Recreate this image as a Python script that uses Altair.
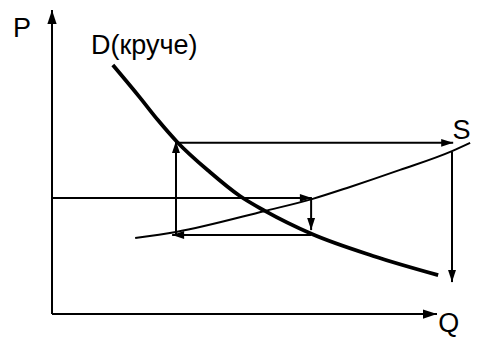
import altair as alt
import pandas as pd

# Demand curve D (steeper)
d_q = [1.58, 2.29, 2.75, 3.25, 4.10, 4.88, 5.53, 6.75, 8.34, 10.03]
d_p = [8.19, 7.11, 6.38, 5.66, 4.67, 3.88, 3.39, 2.63, 1.91, 1.28]

# Supply curve S
s_q = [2.16, 3.22, 5.53, 6.75, 7.74, 9.04, 10.39, 10.86]
s_p = [2.50, 2.70, 3.39, 3.78, 4.18, 4.74, 5.36, 5.63]

# Cobweb arrows (start -> end)
arrow_q1 = [0.00, 6.73, 6.73, 3.22, 3.22, 10.39]
arrow_p1 = [3.82, 3.82, 2.60, 2.60, 5.63, 5.33]
arrow_q2 = [6.75, 6.73, 3.12, 3.22, 10.42, 10.39]
arrow_p2 = [3.82, 2.76, 2.60, 5.69, 5.63, 1.05]

# Coordinate axes (origin -> tip)
axis_q1 = [0, 0]
axis_p1 = [0, 0]
axis_q2 = [0, 10]
axis_p2 = [10, 0]

# Labels
label_text = ["P", "Q", "D(круче)", "S"]
label_q = [-1.01, 10.03, 1.01, 10.40]
label_p = [9.11, -0.60, 8.55, 5.77]

xs = alt.Scale(domain=[-1.143, 10.883], nice=False, zero=False)
ys = alt.Scale(domain=[-0.789, 10.066], nice=False, zero=False)

d_df = pd.DataFrame({"q": d_q, "p": d_p})
s_df = pd.DataFrame({"q": s_q, "p": s_p})
arr_df = pd.DataFrame({"q1": arrow_q1, "p1": arrow_p1, "q2": arrow_q2, "p2": arrow_p2})
ax_df = pd.DataFrame({"q1": axis_q1, "p1": axis_p1, "q2": axis_q2, "p2": axis_p2})
lab_df = pd.DataFrame({"t": label_text, "q": label_q, "p": label_p})

angle_expr = ("datum.q2 > datum.q1 ? 90 : (datum.q2 < datum.q1 ? 270 : "
              "(datum.p2 > datum.p1 ? 0 : 180))")
head_path = "M0,0L0.33,1L-0.33,1Z"


def arrows(df, head_size):
    base = alt.Chart(df)
    rules = base.mark_rule(color="black", strokeWidth=2).encode(
        x=alt.X("q1:Q", scale=xs, axis=None),
        x2="q2:Q",
        y=alt.Y("p1:Q", scale=ys, axis=None),
        y2="p2:Q",
    )
    heads = base.transform_calculate(ang=angle_expr).mark_point(
        shape=head_path, filled=True, color="black", opacity=1,
        strokeWidth=0, size=head_size,
    ).encode(
        x=alt.X("q2:Q", scale=xs, axis=None),
        y=alt.Y("p2:Q", scale=ys, axis=None),
        angle=alt.Angle("ang:Q", scale=None),
    )
    return rules + heads


d_line = alt.Chart(d_df).mark_line(
    color="black", strokeWidth=3.8, interpolate="monotone"
).encode(
    x=alt.X("q:Q", scale=xs, axis=None),
    y=alt.Y("p:Q", scale=ys, axis=None),
    order="q:Q",
)

s_line = alt.Chart(s_df).mark_line(
    color="black", strokeWidth=2, interpolate="monotone"
).encode(
    x=alt.X("q:Q", scale=xs, axis=None),
    y=alt.Y("p:Q", scale=ys, axis=None),
    order="q:Q",
)

labels = alt.Chart(lab_df).mark_text(
    align="left", baseline="alphabetic", font="Liberation Sans",
    fontSize=27, color="black",
).encode(
    x=alt.X("q:Q", scale=xs, axis=None),
    y=alt.Y("p:Q", scale=ys, axis=None),
    text="t:N",
)

chart = alt.layer(
    arrows(ax_df, 784),
    arrows(arr_df, 576),
    s_line,
    d_line,
    labels,
).properties(
    width=463, height=330, padding=0, autosize="none",
    background="white",
).configure_view(strokeWidth=0)

chart.save("out.html", embed_options={"renderer": "svg", "actions": False})
